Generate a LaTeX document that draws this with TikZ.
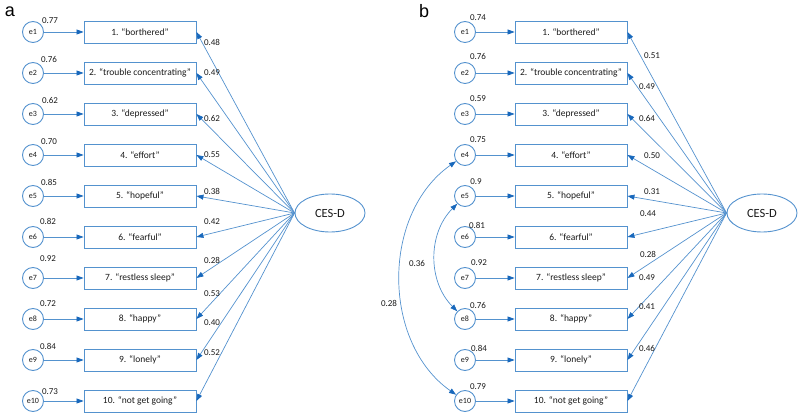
\documentclass[tikz,border=0pt]{standalone}
\usepackage{fontspec}
\setmainfont{Carlito}
\newfontfamily\panelfont{Liberation Sans}
\usetikzlibrary{arrows.meta,shapes.geometric}
\definecolor{semline}{RGB}{84,146,206}
\definecolor{semtip}{RGB}{24,104,188}
\definecolor{semtext}{RGB}{25,25,25}
\tikzset{
  errnode/.style={circle,draw=semline,line width=0.9pt,minimum size=21pt,inner sep=0pt,text=semtext,font=\fontsize{8}{9}\selectfont},
  itembox/.style={rectangle,draw=semline,line width=0.9pt,minimum width=112pt,minimum height=22pt,inner sep=0pt,text=semtext,font=\fontsize{9.5}{11}\selectfont},
  latent/.style={ellipse,draw=semline,line width=0.9pt,minimum width=70pt,minimum height=38pt,inner sep=0pt,text=semtext,font=\fontsize{12.5}{14}\selectfont},
  coef/.style={inner sep=0pt,text=semtext,font=\fontsize{9}{10}\selectfont},
  panel/.style={inner sep=0pt,font=\panelfont\fontsize{18}{20}\selectfont},
  semarrow/.style={draw=semline,line width=0.7pt,-{Triangle[length=7pt,width=5pt,color=semtip]}},
  covarrow/.style={draw=semline,line width=0.7pt,{Triangle[length=7pt,width=5pt,color=semtip]}-{Triangle[length=7pt,width=5pt,color=semtip]}},
}

\begin{document}
\begin{tikzpicture}[x=1pt,y=-1pt]
			%%%%% FRAME %%%%%
			\useasboundingbox (0,0) rectangle (800,419);
			
			%%%%% PANEL A %%%%%
			\node[panel] (laba) at (10,12) {a};
			
			\node[errnode] (ae1) at (33,32) {e1};
			\node[errnode] (ae2) at (33,73) {e2};
			\node[errnode] (ae3) at (33,114) {e3};
			\node[errnode] (ae4) at (33,155) {e4};
			\node[errnode] (ae5) at (33,196) {e5};
			\node[errnode] (ae6) at (33,237) {e6};
			\node[errnode] (ae7) at (33,278) {e7};
			\node[errnode] (ae8) at (33,319) {e8};
			\node[errnode] (ae9) at (33,360) {e9};
			\node[errnode] (ae10) at (33,401) {e10};
			
			\node[itembox] (ai1) at (140,32) {1. “borthered”};
			\node[itembox] (ai2) at (140,73) {2. “trouble concentrating”};
			\node[itembox] (ai3) at (140,114) {3. “depressed”};
			\node[itembox] (ai4) at (140,155) {4. “effort”};
			\node[itembox] (ai5) at (140,196) {5. “hopeful”};
			\node[itembox] (ai6) at (140,237) {6. “fearful”};
			\node[itembox] (ai7) at (140,278) {7. “restless sleep”};
			\node[itembox] (ai8) at (140,319) {8. “happy”};
			\node[itembox] (ai9) at (140,360) {9. “lonely”};
			\node[itembox] (ai10) at (140,401) {10. “not get going”};
			
			\node[latent] (acesd) at (330,213) {CES-D};
			
			\draw[semarrow] (ae1) -- (ai1);
			\draw[semarrow] (ae2) -- (ai2);
			\draw[semarrow] (ae3) -- (ai3);
			\draw[semarrow] (ae4) -- (ai4);
			\draw[semarrow] (ae5) -- (ai5);
			\draw[semarrow] (ae6) -- (ai6);
			\draw[semarrow] (ae7) -- (ai7);
			\draw[semarrow] (ae8) -- (ai8);
			\draw[semarrow] (ae9) -- (ai9);
			\draw[semarrow] (ae10) -- (ai10);
			
			\draw[semarrow] (acesd.west) -- (ai1.east);
			\draw[semarrow] (acesd.west) -- (ai2.east);
			\draw[semarrow] (acesd.west) -- (ai3.east);
			\draw[semarrow] (acesd.west) -- (ai4.east);
			\draw[semarrow] (acesd.west) -- (ai5.east);
			\draw[semarrow] (acesd.west) -- (ai6.east);
			\draw[semarrow] (acesd.west) -- (ai7.east);
			\draw[semarrow] (acesd.west) -- (ai8.east);
			\draw[semarrow] (acesd.west) -- (ai9.east);
			\draw[semarrow] (acesd.west) -- (ai10.east);
			
			% error variances
			\node[coef] (av1) at (50,21) {0.77};
			\node[coef] (av2) at (49,60) {0.76};
			\node[coef] (av3) at (50,101) {0.62};
			\node[coef] (av4) at (49,142) {0.70};
			\node[coef] (av5) at (49,182) {0.85};
			\node[coef] (av6) at (48,221) {0.82};
			\node[coef] (av7) at (48,259) {0.92};
			\node[coef] (av8) at (48,304) {0.72};
			\node[coef] (av9) at (48,346) {0.84};
			\node[coef] (av10) at (50,392) {0.73};
			
			% loadings
			\node[coef] (al1) at (212,42) {0.48};
			\node[coef] (al2) at (212,73) {0.49};
			\node[coef] (al3) at (212,118) {0.62};
			\node[coef] (al4) at (212,155) {0.55};
			\node[coef] (al5) at (212,191) {0.38};
			\node[coef] (al6) at (212,222) {0.42};
			\node[coef] (al7) at (212,260) {0.28};
			\node[coef] (al8) at (212,294) {0.53};
			\node[coef] (al9) at (212,323) {0.40};
			\node[coef] (al10) at (212,353) {0.52};
			
			%%%%% PANEL B %%%%%
			\node[panel] (labb) at (424,11) {b};
			
			\node[errnode] (be1) at (465,32) {e1};
			\node[errnode] (be2) at (465,73) {e2};
			\node[errnode] (be3) at (465,114) {e3};
			\node[errnode] (be4) at (465,155) {e4};
			\node[errnode] (be5) at (465,196) {e5};
			\node[errnode] (be6) at (465,237) {e6};
			\node[errnode] (be7) at (465,278) {e7};
			\node[errnode] (be8) at (465,319) {e8};
			\node[errnode] (be9) at (465,360) {e9};
			\node[errnode] (be10) at (465,401) {e10};
			
			\node[itembox] (bi1) at (571,32) {1. “borthered”};
			\node[itembox] (bi2) at (571,73) {2. “trouble concentrating”};
			\node[itembox] (bi3) at (571,114) {3. “depressed”};
			\node[itembox] (bi4) at (571,155) {4. “effort”};
			\node[itembox] (bi5) at (571,196) {5. “hopeful”};
			\node[itembox] (bi6) at (571,237) {6. “fearful”};
			\node[itembox] (bi7) at (571,278) {7. “restless sleep”};
			\node[itembox] (bi8) at (571,319) {8. “happy”};
			\node[itembox] (bi9) at (571,360) {9. “lonely”};
			\node[itembox] (bi10) at (571,401) {10. “not get going”};
			
			\node[latent] (bcesd) at (762,213) {CES-D};
			
			\draw[semarrow] (be1) -- (bi1);
			\draw[semarrow] (be2) -- (bi2);
			\draw[semarrow] (be3) -- (bi3);
			\draw[semarrow] (be4) -- (bi4);
			\draw[semarrow] (be5) -- (bi5);
			\draw[semarrow] (be6) -- (bi6);
			\draw[semarrow] (be7) -- (bi7);
			\draw[semarrow] (be8) -- (bi8);
			\draw[semarrow] (be9) -- (bi9);
			\draw[semarrow] (be10) -- (bi10);
			
			\draw[semarrow] (bcesd.west) -- (bi1.east);
			\draw[semarrow] (bcesd.west) -- (bi2.east);
			\draw[semarrow] (bcesd.west) -- (bi3.east);
			\draw[semarrow] (bcesd.west) -- (bi4.east);
			\draw[semarrow] (bcesd.west) -- (bi5.east);
			\draw[semarrow] (bcesd.west) -- (bi6.east);
			\draw[semarrow] (bcesd.west) -- (bi7.east);
			\draw[semarrow] (bcesd.west) -- (bi8.east);
			\draw[semarrow] (bcesd.west) -- (bi9.east);
			\draw[semarrow] (bcesd.west) -- (bi10.east);
			
			% correlated errors
			\draw[covarrow] (be4) to[bend right=55] (be10);
			\draw[covarrow] (be5) to[bend right=45] (be8);
			\node[coef,fill=white,inner sep=1pt] (bc1) at (389,303) {0.28};
			\node[coef] (bc2) at (417,263) {0.36};
			
			% error variances
			\node[coef] (bv1) at (478,18) {0.74};
			\node[coef] (bv2) at (478,57) {0.76};
			\node[coef] (bv3) at (478,99) {0.59};
			\node[coef] (bv4) at (478,140) {0.75};
			\node[coef] (bv5) at (476,182) {0.9};
			\node[coef] (bv6) at (477,225) {0.81};
			\node[coef] (bv7) at (479,263) {0.92};
			\node[coef] (bv8) at (478,305) {0.76};
			\node[coef] (bv9) at (479,348) {0.84};
			\node[coef] (bv10) at (478,387) {0.79};
			
			% loadings
			\node[coef] (bl1) at (652,56) {0.51};
			\node[coef] (bl2) at (647,87) {0.49};
			\node[coef] (bl3) at (647,119) {0.64};
			\node[coef] (bl4) at (652,156) {0.50};
			\node[coef] (bl5) at (652,192) {0.31};
			\node[coef] (bl6) at (648,214) {0.44};
			\node[coef] (bl7) at (648,254) {0.28};
			\node[coef] (bl8) at (647,278) {0.49};
			\node[coef] (bl9) at (647,307) {0.41};
			\node[coef] (bl10) at (647,348) {0.46};
			
			%%%%% END %%%%%
\end{tikzpicture}
\end{document}
